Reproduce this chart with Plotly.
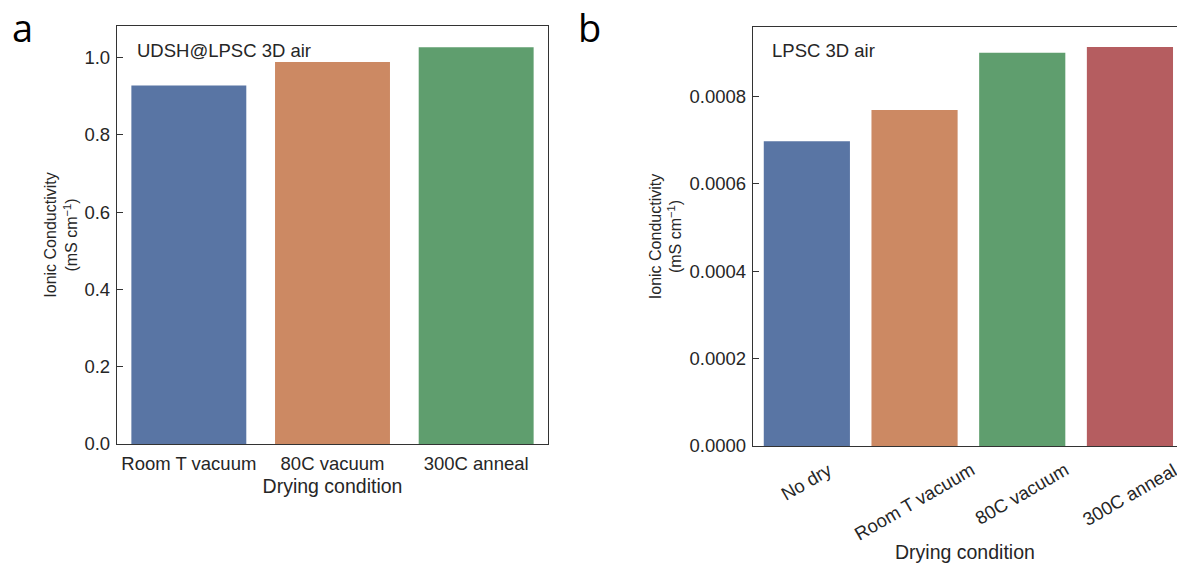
import plotly.graph_objects as go

# ---- data ----
cats_a = ["Room T vacuum", "80C vacuum", "300C anneal"]
vals_a = [0.928, 0.989, 1.027]
cats_b = ["No dry", "Room T vacuum", "80C vacuum", "300C anneal"]
vals_b = [0.000697, 0.000768, 0.000899, 0.000912]
colors = ["#5975a4", "#cc8963", "#5f9e6e", "#b55d60"]
yticks_a = [0.0, 0.2, 0.4, 0.6, 0.8, 1.0]
yticks_b = [0.0, 0.0002, 0.0004, 0.0006, 0.0008]
label_a = "UDSH@LPSC 3D air"
label_b = "LPSC 3D air"
ytitle = "Ionic Conductivity<br>(mS cm<sup>\u22121</sup>)"
xtitle = "Drying condition"

W, H = 1177, 565
FONT = "Liberation Sans, Arial, sans-serif"
TXT = "#262626"
LINE = "#333333"
TICKSZ = 18.5

fig = go.Figure()
fig.add_trace(go.Bar(x=cats_a, y=vals_a, marker=dict(color=colors[:3], line=dict(width=0)),
                     width=0.8, xaxis="x", yaxis="y", showlegend=False))
fig.add_trace(go.Bar(x=cats_b, y=vals_b, marker=dict(color=colors[:4], line=dict(width=0)),
                     width=0.8, xaxis="x2", yaxis="y2", showlegend=False))

axis_common = dict(showline=True, linecolor=LINE, linewidth=1.4, showgrid=False,
                   zeroline=False, automargin=False)

fig.update_layout(
    width=W, height=H,
    margin=dict(l=0, r=0, t=0, b=0, autoexpand=False),
    paper_bgcolor="white", plot_bgcolor="white",
    font=dict(family=FONT, color=TXT),
    bargap=0.2,
    xaxis=dict(domain=[117 / W, 548 / W], range=[-0.5, 2.5], mirror=True, ticks="",
               tickfont=dict(size=TICKSZ, color=TXT), ticklabelstandoff=3,
               title=dict(text=xtitle, font=dict(size=19.5, color=TXT), standoff=5),
               **axis_common),
    yaxis=dict(domain=[(H - 444) / H, (H - 26) / H], range=[0, 1.082], mirror=True,
               ticks="inside", ticklen=6, tickwidth=1.4, tickcolor=LINE,
               tickvals=yticks_a, tickformat=".1f", tickfont=dict(size=TICKSZ, color=TXT),
               ticklabelstandoff=2,
               title=dict(text=ytitle, font=dict(size=16, color=TXT), standoff=2),
               **axis_common),
    xaxis2=dict(domain=[753 / W, 1.0], range=[-0.5, 3.437], mirror=True, ticks="",
                showticklabels=False, anchor="y2", **axis_common),
    yaxis2=dict(domain=[(H - 446) / H, (H - 27) / H], range=[0, 0.000958], mirror=False,
                anchor="x2",
                ticks="inside", ticklen=6, tickwidth=1.4, tickcolor=LINE,
                tickvals=yticks_b, tickformat=".4f", tickfont=dict(size=TICKSZ, color=TXT),
                ticklabelstandoff=2,
                title=dict(text=ytitle, font=dict(size=16, color=TXT), standoff=3),
                **axis_common),
)

annotations = [
    dict(text="a", x=10 / W, y=(H - 27) / H, xref="paper", yref="paper", xanchor="left",
         yanchor="middle", showarrow=False, font=dict(family="Open Sans", size=38, color="black")),
    dict(text="b", x=576 / W, y=(H - 27) / H, xref="paper", yref="paper", xanchor="left",
         yanchor="middle", showarrow=False, font=dict(family="Open Sans", size=38, color="black")),
    dict(text=label_a, x=135 / W, y=(H - 50) / H, xref="paper", yref="paper", xanchor="left",
         yanchor="middle", showarrow=False, font=dict(size=18.5, color=TXT)),
    dict(text=label_b, x=770 / W, y=(H - 50) / H, xref="paper", yref="paper", xanchor="left",
         yanchor="middle", showarrow=False, font=dict(size=18.5, color=TXT)),
    dict(text=xtitle, x=965 / W, y=(H - 552) / H, xref="paper", yref="paper", xanchor="center",
         yanchor="middle", showarrow=False, font=dict(size=19.5, color=TXT)),
]
for c in cats_b:
    annotations.append(dict(text=c, x=c, xref="x2", y=(H - 456) / H, yref="paper",
                            xanchor="center", yanchor="top", textangle=-30, showarrow=False,
                            font=dict(size=TICKSZ, color=TXT)))
fig.update_layout(annotations=annotations)

fig.write_html("out.html")
